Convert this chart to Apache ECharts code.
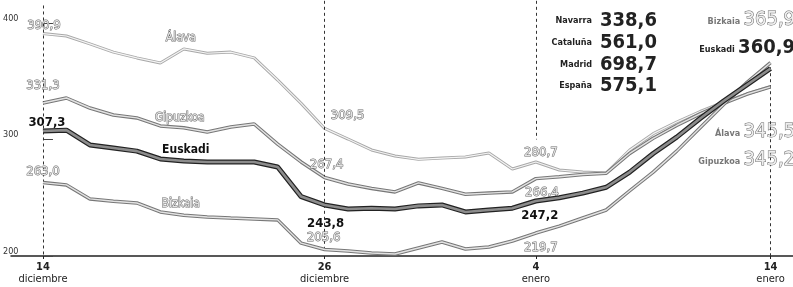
<!DOCTYPE html>
<html>
<head>
<meta charset="utf-8">
<script src="https://cdn.jsdelivr.net/npm/echarts@6/dist/echarts.min.js"></script>
<style>
  html, body { margin: 0; padding: 0; background: #fff; }
  #chart { width: 793px; height: 287px; }
</style>
</head>
<body>
<div id="chart"></div>
<script>
// días desde el 14 de diciembre (0) hasta el 14 de enero (31)
const dayTicks = [0, 12, 21, 31]
const dayNumbers = ['14', '26', '4', '14']
const monthNames = ['diciembre', 'diciembre', 'enero', 'enero']
const yTicks = [200, 300, 400]

const alava = [390.9, 388.8, 382, 375, 370, 365.7, 377.7, 374, 375, 370, 351, 331, 309.5, 300.4, 291, 285.8,
  283, 284, 285, 288.4, 274.7, 280.7, 273.8, 272, 271.2, 291, 305, 315, 324, 332, 339, 345.5]
const gipuzkoa = [331.3, 335.6, 327, 321, 318.5, 311.6, 310, 306.4, 310.7, 313.3, 296, 280.7, 267.4, 261.8, 258, 255,
  262.7, 258, 253, 254, 255, 266.4, 268, 270, 271, 288, 301, 312, 322, 331, 339, 345.2]
const euskadi = [307.3, 308, 295.3, 292.7, 290, 283.3, 281.5, 280.7, 280.7, 280.7, 276.4, 251, 243.8, 240.3, 241, 240.3,
  243, 243.8, 237.8, 239.5, 241, 247.2, 250, 254, 259, 272, 288, 302, 318, 333, 347, 360.9]
const bizkaia = [263.0, 261, 249, 247, 245.5, 237.8, 235, 233.5, 232.6, 231.8, 231, 211, 205.6, 204.3, 202.6, 201.7,
  206.9, 212, 206, 207.7, 212.9, 219.7, 225.7, 232.6, 239.5, 256, 272, 290, 310, 330, 349, 365.9]

// otras comunidades (recuadro superior)
const otherNames = ['Navarra', 'Cataluña', 'Madrid', 'España']
const otherValues = [338.6, 561.0, 698.7, 575.1]

const FONT = '"DejaVu Sans Condensed", "DejaVu Sans", sans-serif'
const fmt = v => v.toFixed(1).replace('.', ',')

const grayText = { color: '#e4e4e4', textBorderColor: '#6a6a6a', textBorderWidth: 1, fontFamily: FONT, fontSize: 13 }
const darkText = { color: '#111', fontWeight: 'bold', fontFamily: FONT, fontSize: 13 }

const valueLabel = (base, position, distance, offset) => ({
  show: true, position, distance, offset,
  formatter: p => fmt(p.value[1]), ...base
})
const nameLabel = (base, distance, offset) => ({
  show: true, position: 'top', distance, offset,
  formatter: p => p.seriesName, ...base, fontSize: 12
})
const endLabel = (dark, offset) => ({
  show: true, position: 'left', distance: 0, offset, align: 'right',
  formatter: p => '{n|' + p.seriesName + '} {v|' + fmt(p.value[1]) + '}',
  rich: {
    n: { fontFamily: FONT, fontSize: 9, fontWeight: 'bold', color: dark ? '#222' : '#777', padding: [4, 0, 0, 0] },
    v: dark
      ? { fontFamily: FONT, fontSize: 20, fontWeight: 'bold', color: '#222' }
      : { fontFamily: FONT, fontSize: 20, color: '#eee', textBorderColor: '#666', textBorderWidth: 1 }
  }
})

const buildData = (values, marks) => values.map((v, i) => {
  const item = { value: [i, v] }
  if (marks[i]) item.label = marks[i]
  return item
})

const lineSeries = (name, values, outer, inner, marks, z) => [
  {
    name, type: 'line', data: values.map((v, i) => [i, v]), showSymbol: false, silent: true, z,
    lineStyle: { color: outer.color, width: outer.width }
  },
  {
    name, type: 'line', data: buildData(values, marks), symbol: 'circle', symbolSize: 1, silent: true, z: z + 1,
    itemStyle: { color: 'rgba(0,0,0,0)' },
    lineStyle: { color: inner.color, width: inner.width }
  }
]

const series = [
  ...lineSeries('Álava', alava, { color: '#a8a8a8', width: 3 }, { color: '#f4f4f4', width: 1.2 }, {
    0: valueLabel(grayText, 'top', 1, [1, 0]),
    6: nameLabel(grayText, 5, [-3, 0]),
    12: valueLabel(grayText, 'top', 4, [23, -2]),
    21: valueLabel(grayText, 'top', 2, [5, 0]),
    31: endLabel(false, [25, 45])
  }, 2),
  ...lineSeries('Gipuzkoa', gipuzkoa, { color: '#777', width: 3.5 }, { color: '#e2e2e2', width: 1.4 }, {
    0: valueLabel(grayText, 'top', 10, [0, 0]),
    6: nameLabel(grayText, 3, [-4, 0]),
    12: valueLabel(grayText, 'top', 6, [2, 0]),
    21: valueLabel(grayText, 'bottom', 7, [6, 0]),
    31: endLabel(false, [25, 73])
  }, 4),
  ...lineSeries('Bizkaia', bizkaia, { color: '#777', width: 3.5 }, { color: '#e2e2e2', width: 1.4 }, {
    0: valueLabel(grayText, 'top', 4, [0, 0]),
    6: nameLabel(grayText, 5, [-3, 0]),
    12: valueLabel(grayText, 'top', 5, [-1, 0]),
    21: valueLabel(grayText, 'bottom', 8, [5, 0]),
    31: endLabel(false, [25, -43])
  }, 6),
  ...lineSeries('Euskadi', euskadi, { color: '#222', width: 5 }, { color: '#8c8c8c', width: 2.6 }, {
    0: valueLabel(darkText, 'top', 1, [4, 0]),
    6: nameLabel(darkText, 5, [2, 0]),
    12: valueLabel(darkText, 'bottom', 12, [1, 0]),
    21: valueLabel(darkText, 'bottom', 8, [4, 0]),
    31: endLabel(true, [25, -21])
  }, 8)
]

// líneas verticales discontinuas en las fechas marcadas
series.push({
  type: 'line', data: [], silent: true, z: 1,
  markLine: {
    symbol: 'none', silent: true, label: { show: false },
    lineStyle: { color: '#333', width: 1, type: [3, 3] },
    data: [
      [{ coord: [dayTicks[0], 415] }, { coord: [dayTicks[0], 200] }],
      [{ coord: [dayTicks[1], 419] }, { coord: [dayTicks[1], 203] }],
      [{ coord: [dayTicks[2], 419] }, { coord: [dayTicks[2], 300] }],
      [{ coord: [dayTicks[3], 362] }, { coord: [dayTicks[3], 200] }]
    ]
  }
})

const graphic = []
otherNames.forEach((n, k) => {
  graphic.push({
    type: 'text', x: 592, y: 21 + 21.7 * k, silent: true,
    style: { text: n, align: 'right', verticalAlign: 'middle', font: 'bold 9px ' + FONT, fill: '#222' }
  })
  graphic.push({
    type: 'text', x: 600, y: 21 + 21.7 * k, silent: true,
    style: { text: fmt(otherValues[k]), align: 'left', verticalAlign: 'middle', font: 'bold 20px ' + FONT, fill: '#222' }
  })
})

const chart = echarts.init(document.getElementById('chart'), null, { renderer: 'canvas' })
chart.setOption({
  animation: false,
  backgroundColor: '#fff',
  grid: { left: 10, right: 0, top: 0, bottom: 31, containLabel: false },
  xAxis: {
    type: 'value', min: -1.3617, max: 31.957,
    axisLine: { show: true, lineStyle: { color: '#222', width: 1.5 } },
    axisTick: { show: true, customValues: dayTicks, length: 3, lineStyle: { color: '#222' } },
    splitLine: { show: false },
    axisLabel: {
      customValues: dayTicks, margin: 5, align: 'center', lineHeight: 12,
      formatter: v => {
        const k = dayTicks.indexOf(v)
        return '{d|' + dayNumbers[k] + '}\n{m|' + monthNames[k] + '}'
      },
      rich: {
        d: { fontFamily: FONT, fontSize: 11, fontWeight: 'bold', color: '#222', lineHeight: 12 },
        m: { fontFamily: FONT, fontSize: 11, color: '#222', lineHeight: 12 }
      }
    }
  },
  yAxis: {
    type: 'value', min: 200, max: 419.7, interval: 100,
    axisLine: { show: false },
    axisTick: { show: true, customValues: yTicks, inside: true, length: 10, lineStyle: { color: '#444' } },
    splitLine: { show: false },
    axisLabel: {
      customValues: yTicks, margin: 8, align: 'left', verticalAlign: 'bottom',
      fontFamily: FONT, fontSize: 9, color: '#333',
      formatter: v => String(v)
    }
  },
  graphic,
  series
})
</script>
</body>
</html>
